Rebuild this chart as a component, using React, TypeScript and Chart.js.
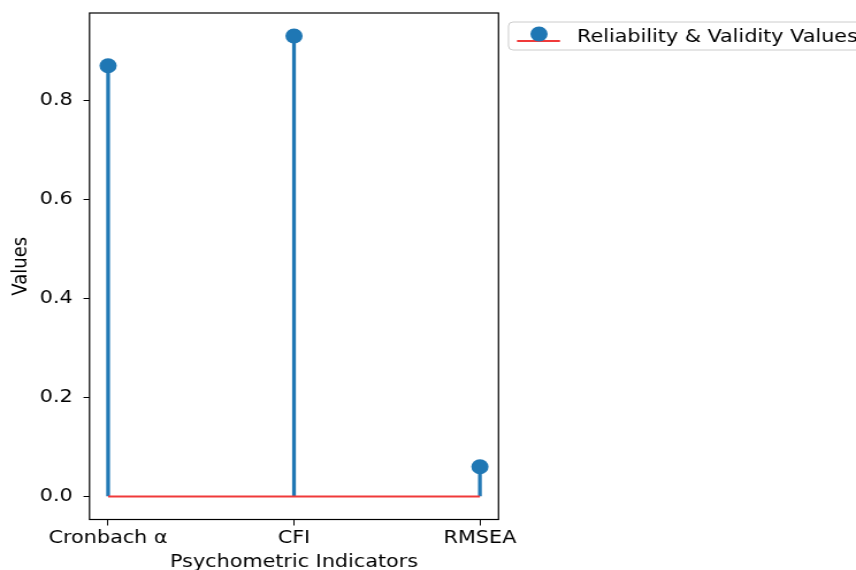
import React, { useEffect, useRef } from 'react';
import { Chart, registerables } from 'chart.js';

Chart.register(...registerables);

// ---- data ----
const categories = ['Cronbach α', 'CFI', 'RMSEA'];
const values = [0.87, 0.93, 0.06];
const yTicks = [0, 0.2, 0.4, 0.6, 0.8];
const seriesLabel = 'Reliability & Validity Values';
const xLabel = 'Psychometric Indicators';
const yLabel = 'Values';
const xLimits = [-0.1, 2.1];
const yLimits = [-0.0465, 0.9765];

// ---- layout / style ----
const OUT_W = 856;
const H = 570;
const SX = 1.15;
const W = Math.round(OUT_W / SX);
const SCALE = OUT_W / W;
const AREA_LEFT = 89.5 / SCALE;
const AREA_RIGHT = 498.5 / SCALE;
const AREA_TOP = 13;
const AREA_BOTTOM = 519.5;
const BLUE = '#1f77b4';
const RED = '#f03a3a';
const FONT = { family: '"DejaVu Sans", sans-serif', size: 18 };

const framePlugin = {
  id: 'frameAndLegend',
  afterDraw(chart: any) {
    const { ctx, chartArea } = chart;
    ctx.save();
    ctx.strokeStyle = '#000';
    ctx.lineWidth = 1.2;
    ctx.strokeRect(chartArea.left, chartArea.top, chartArea.right - chartArea.left, chartArea.bottom - chartArea.top);

    // legend
    const lx = 508.5 / SCALE;
    const ly = 22;
    ctx.beginPath();
    ctx.roundRect(lx, ly, 420, 28, 4);
    ctx.fillStyle = 'rgba(255,255,255,0.8)';
    ctx.fill();
    ctx.strokeStyle = '#cccccc';
    ctx.lineWidth = 1;
    ctx.stroke();

    ctx.beginPath();
    ctx.moveTo(517 / SCALE, 41);
    ctx.lineTo(560 / SCALE, 41);
    ctx.strokeStyle = RED;
    ctx.lineWidth = 2;
    ctx.stroke();

    ctx.beginPath();
    ctx.arc(539 / SCALE, 34, 7.5, 0, Math.PI * 2);
    ctx.fillStyle = BLUE;
    ctx.fill();

    ctx.fillStyle = '#000';
    ctx.font = `${FONT.size}px ${FONT.family}`;
    ctx.textBaseline = 'alphabetic';
    ctx.textAlign = 'left';
    const label = chart.data.datasets[0].label;
    ctx.fillText(label, 577 / SCALE, 41.5);
    ctx.restore();
  },
};

export default function App() {
  const ref = useRef<HTMLCanvasElement>(null);

  useEffect(() => {
    document.body.style.margin = '0';
    const canvas = ref.current!;
    const chart = new Chart(canvas, {
      type: 'scatter',
      data: {
        datasets: [
          {
            type: 'scatter',
            label: seriesLabel,
            data: values.map((v, i) => ({ x: i, y: v })),
            backgroundColor: BLUE,
            borderColor: BLUE,
            borderWidth: 0,
            pointRadius: 7.5,
            pointHoverRadius: 7.5,
            order: 0,
          } as any,
          {
            type: 'line',
            label: 'baseline',
            data: [
              { x: 0, y: 0 },
              { x: categories.length - 1, y: 0 },
            ],
            borderColor: RED,
            borderWidth: 2,
            pointRadius: 0,
            order: 1,
          } as any,
          {
            type: 'bar',
            label: 'stems',
            data: values.map((v, i) => ({ x: i, y: v })),
            backgroundColor: BLUE,
            borderWidth: 0,
            barThickness: 2.6,
            order: 2,
          } as any,
        ],
      },
      options: {
        responsive: false,
        animation: false,
        events: [],
        layout: { padding: { left: 0, top: AREA_TOP, right: W - AREA_RIGHT, bottom: 0 } },
        plugins: { legend: { display: false }, tooltip: { enabled: false } },
        scales: {
          x: {
            type: 'linear',
            min: xLimits[0],
            max: xLimits[1],
            offset: false,
            afterFit: (s: any) => {
              s.height = H - AREA_BOTTOM;
              s.paddingLeft = 0;
              s.paddingRight = 0;
            },
            afterBuildTicks: (s: any) => {
              s.ticks = categories.map((_, i) => ({ value: i }));
            },
            ticks: {
              callback: (v: any) => categories[v] ?? '',
              color: '#000',
              font: FONT,
              padding: 2,
              maxRotation: 0,
              autoSkip: false,
            },
            grid: { offset: false, drawOnChartArea: false, drawTicks: true, tickLength: 6, color: '#000', lineWidth: 1 },
            border: { display: false },
            title: { display: true, text: xLabel, font: FONT, color: '#000', padding: { top: 0, bottom: -3 } },
          },
          y: {
            type: 'linear',
            min: yLimits[0],
            max: yLimits[1],
            afterFit: (s: any) => {
              s.width = AREA_LEFT;
              s.paddingTop = 0;
              s.paddingBottom = 0;
            },
            afterBuildTicks: (s: any) => {
              s.ticks = yTicks.map((v) => ({ value: v }));
            },
            ticks: {
              callback: (v: any) => Number(v).toFixed(1),
              color: '#000',
              font: FONT,
              padding: 9.5,
              includeBounds: false,
            },
            grid: { offset: false, drawOnChartArea: false, drawTicks: true, tickLength: 5.2, color: '#000', lineWidth: 1 },
            border: { display: false },
            title: { display: true, text: yLabel, font: FONT, color: '#000', padding: { top: 7.5, bottom: 0 } },
          },
        },
      } as any,
      plugins: [framePlugin],
    });
    return () => chart.destroy();
  }, []);

  return (
    <div style={{ width: OUT_W, height: H, overflow: 'hidden', position: 'relative' }}>
      <div style={{ width: W, height: H, transform: `scaleX(${SCALE})`, transformOrigin: '0 0' }}>
        <canvas ref={ref} width={W} height={H} style={{ display: 'block' }} />
      </div>
    </div>
  );
}
